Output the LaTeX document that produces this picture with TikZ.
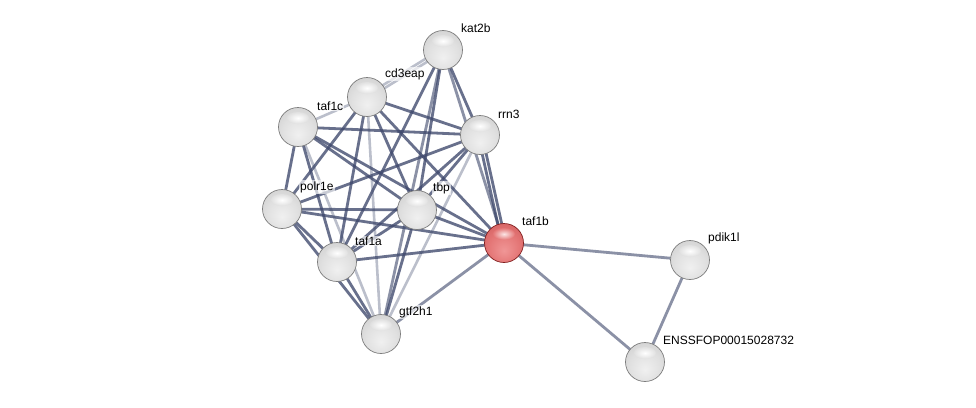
\documentclass[tikz,border=0pt]{standalone}
\usepackage{fontspec}
\setmainfont{Liberation Sans}
\usetikzlibrary{backgrounds}
\definecolor{gb0}{RGB}{240,240,240}
\definecolor{gb1}{RGB}{224,224,224}
\definecolor{gb2}{RGB}{202,202,202}
\definecolor{gb3}{RGB}{160,160,160}
\definecolor{gb4}{RGB}{125,125,125}
\definecolor{rb0}{RGB}{240,150,150}
\definecolor{rb1}{RGB}{228,118,118}
\definecolor{rb2}{RGB}{205,88,88}
\definecolor{rb3}{RGB}{165,52,52}
\definecolor{rb4}{RGB}{130,32,32}
\definecolor{edgecol}{RGB}{62,72,108}
\pgfdeclareradialshading{greyball}{\pgfpoint{0bp}{-10bp}}{color(0bp)=(gb0);color(20bp)=(gb1);color(40bp)=(gb2);color(54bp)=(gb3);color(62bp)=(gb4)}
\pgfdeclareradialshading{redball}{\pgfpoint{0bp}{-10bp}}{color(0bp)=(rb0);color(20bp)=(rb1);color(40bp)=(rb2);color(54bp)=(rb3);color(62bp)=(rb4)}
\tikzset{
  gball/.style={circle, minimum size=39pt, inner sep=0pt, shading=greyball, draw=gb4, line width=0.7pt},
  rball/.style={circle, minimum size=39pt, inner sep=0pt, shading=redball, draw=rb4, line width=0.7pt},
  hlg/.style={inner color=white, outer color=gb1},
  hlr/.style={inner color=white!75!rb0, outer color=rb1},
  lbl/.style={anchor=west, inner sep=1pt, fill=white, fill opacity=0.65, text opacity=1, font=\fontsize{12}{14}\selectfont},
  strong/.style={draw=edgecol, line width=2.8pt, opacity=0.78},
  mid/.style={draw=edgecol, line width=2.8pt, opacity=0.6},
  weak/.style={draw=edgecol, line width=2.6pt, opacity=0.35},
}
\begin{document}
\begin{tikzpicture}[x=1pt,y=-1pt]
\useasboundingbox (0,0) rectangle (976,407);
% nodes
\node[gball] (kat2b) at (443,50) {};
\node[gball] (cd3eap) at (367,97) {};
\node[gball] (taf1c) at (298,127) {};
\node[gball] (rrn3) at (480,135) {};
\node[gball] (polr1e) at (282,209) {};
\node[gball] (tbp) at (417,210) {};
\node[rball] (taf1b) at (504,243) {};
\node[gball] (taf1a) at (337,262) {};
\node[gball] (gtf2h1) at (381,334) {};
\node[gball] (pdik1l) at (690,260) {};
\node[gball] (enss) at (645,362) {};
% highlights
\foreach \n in {kat2b,cd3eap,taf1c,rrn3,polr1e,tbp,taf1a,gtf2h1,pdik1l,enss}{
  \shade[hlg] ([yshift=9pt]\n.center) ellipse (11 and 6);
}
\shade[hlr] ([yshift=9pt]taf1b.center) ellipse (11 and 6);
% labels
\node[lbl] (kat2bL) at ([shift={(17pt,22pt)}]kat2b.center) {kat2b};
\node[lbl] (cd3eapL) at ([shift={(17pt,23pt)}]cd3eap.center) {cd3eap};
\node[lbl] (taf1cL) at ([shift={(18pt,21pt)}]taf1c.center) {taf1c};
\node[lbl] (rrn3L) at ([shift={(17pt,21pt)}]rrn3.center) {rrn3};
\node[lbl] (polr1eL) at ([shift={(17pt,22pt)}]polr1e.center) {polr1e};
\node[lbl] (tbpL) at ([shift={(15pt,22pt)}]tbp.center) {tbp};
\node[lbl] (taf1bL) at ([shift={(17pt,22pt)}]taf1b.center) {taf1b};
\node[lbl] (taf1aL) at ([shift={(17pt,21pt)}]taf1a.center) {taf1a};
\node[lbl] (gtf2h1L) at ([shift={(17pt,22pt)}]gtf2h1.center) {gtf2h1};
\node[lbl] (pdik1lL) at ([shift={(17pt,22pt)}]pdik1l.center) {pdik1l};
\node[lbl] (enssL) at ([shift={(17pt,22pt)}]enss.center) {ENSSFOP00015028732};
% edges
\begin{scope}[on background layer]
\fill[white] (0,0) rectangle (976,407);
\draw[weak] ([yshift=2pt]kat2b.center) -- ([yshift=2pt]cd3eap.center);
\draw[weak] ([yshift=-2pt]kat2b.center) -- ([yshift=-2pt]cd3eap.center);
\draw[strong] (kat2b.center) -- (rrn3.center);
\draw[strong] (kat2b.center) -- (tbp.center);
\draw[strong] (kat2b.center) -- (taf1a.center);
\draw[mid] (kat2b.center) -- (gtf2h1.center);
\draw[mid] (kat2b.center) -- (taf1b.center);
\draw[weak] (cd3eap.center) -- (taf1c.center);
\draw[strong] (cd3eap.center) -- (rrn3.center);
\draw[strong] (cd3eap.center) -- (polr1e.center);
\draw[strong] (cd3eap.center) -- (tbp.center);
\draw[strong] (cd3eap.center) -- (taf1a.center);
\draw[strong] (cd3eap.center) -- (taf1b.center);
\draw[weak] (cd3eap.center) -- (gtf2h1.center);
\draw[strong] (taf1c.center) -- (rrn3.center);
\draw[strong] (taf1c.center) -- (polr1e.center);
\draw[strong] (taf1c.center) -- (taf1a.center);
\draw[strong] (taf1c.center) -- (tbp.center);
\draw[strong] (taf1c.center) -- (taf1b.center);
\draw[weak] (taf1c.center) -- (gtf2h1.center);
\draw[strong] (rrn3.center) -- (polr1e.center);
\draw[strong] (rrn3.center) -- (taf1a.center);
\draw[strong] (rrn3.center) -- (tbp.center);
\draw[strong] ([xshift=-2pt]rrn3.center) -- ([xshift=-2pt]taf1b.center);
\draw[strong] ([xshift=2pt]rrn3.center) -- ([xshift=2pt]taf1b.center);
\draw[weak] (rrn3.center) -- (gtf2h1.center);
\draw[strong] (polr1e.center) -- (tbp.center);
\draw[strong] (polr1e.center) -- (taf1b.center);
\draw[strong] (polr1e.center) -- (taf1a.center);
\draw[strong] (polr1e.center) -- (gtf2h1.center);
\draw[strong] (tbp.center) -- (taf1b.center);
\draw[strong] (tbp.center) -- (taf1a.center);
\draw[strong] (tbp.center) -- (gtf2h1.center);
\draw[strong] (taf1a.center) -- (taf1b.center);
\draw[strong] (taf1a.center) -- (gtf2h1.center);
\draw[mid] (gtf2h1.center) -- (taf1b.center);
\draw[mid] (taf1b.center) -- (pdik1l.center);
\draw[mid] (taf1b.center) -- (enss.center);
\draw[mid] (pdik1l.center) -- (enss.center);
\end{scope}
\end{tikzpicture}
\end{document}
